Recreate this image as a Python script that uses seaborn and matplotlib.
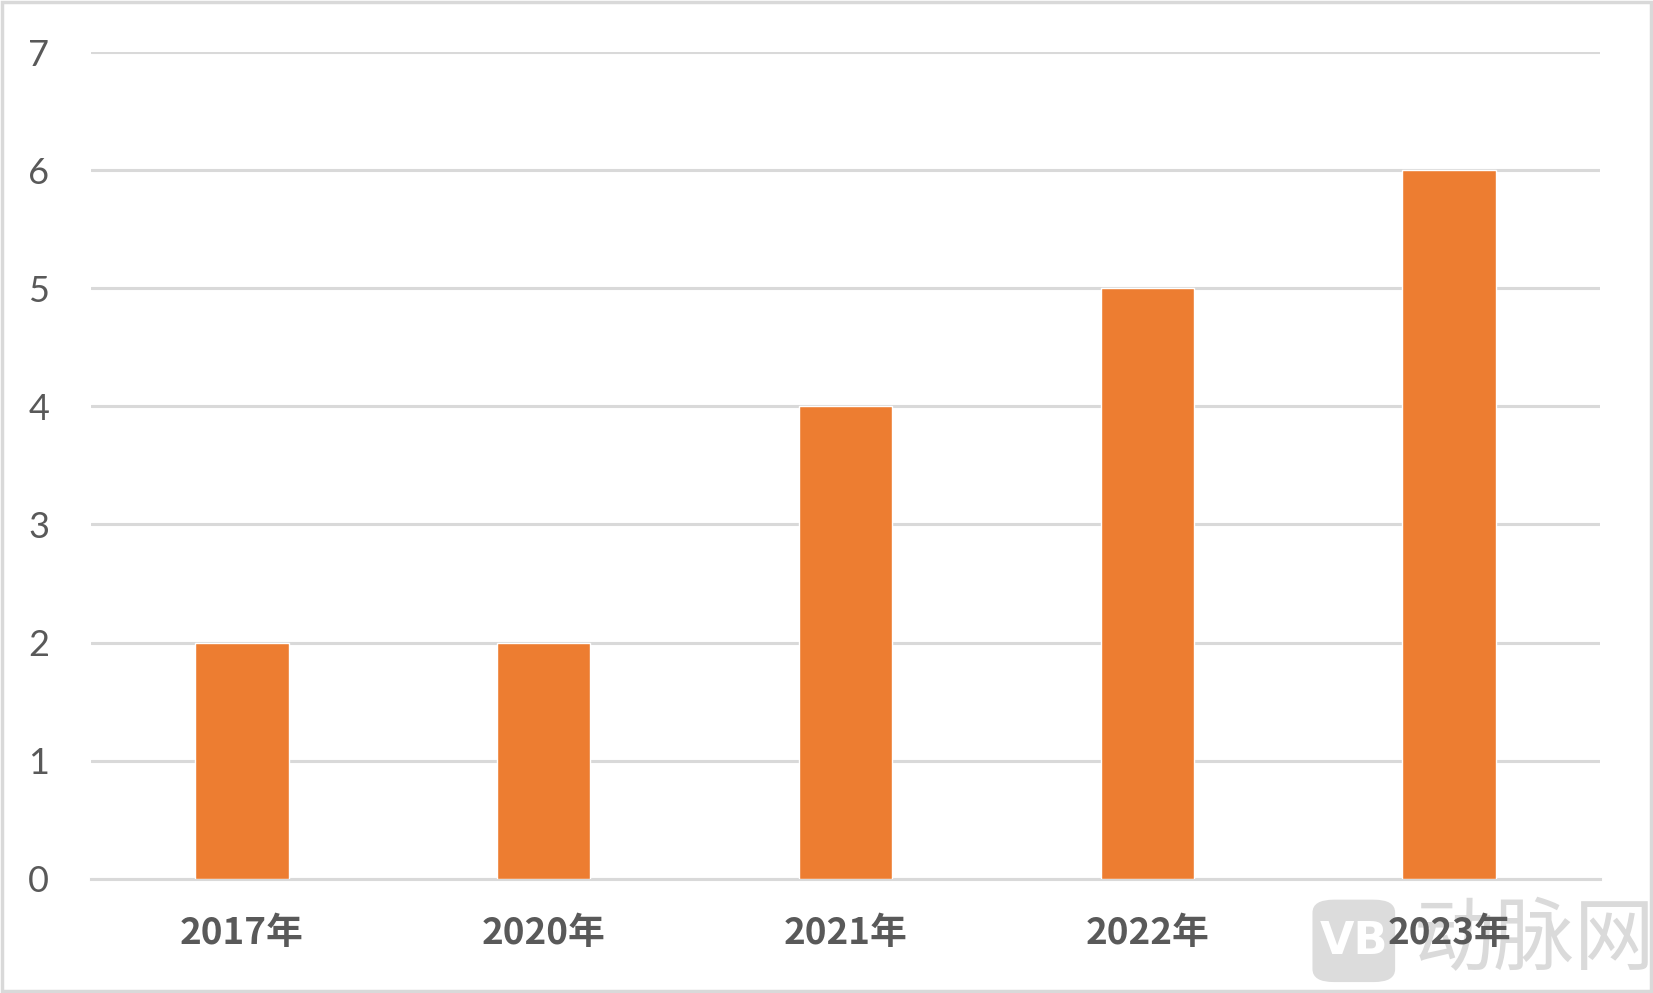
import matplotlib
matplotlib.use("Agg")
import matplotlib.pyplot as plt
import seaborn as sns
import pandas as pd
from matplotlib.patches import FancyBboxPatch, Rectangle

years = ['2017年', '2020年', '2021年', '2022年', '2023年']
counts = [2, 2, 4, 5, 6]
yticks = [0, 1, 2, 3, 4, 5, 6, 7]

df = pd.DataFrame({'year': years, 'count': counts})

sns.set_style('white')
plt.rcParams['font.family'] = ['Lato', 'Noto Sans CJK SC', 'DejaVu Sans']

fig = plt.figure(figsize=(16.53, 9.93), dpi=100)
ax = fig.add_axes([0.055, 0.115, 0.913, 0.8326])

sns.barplot(data=df, x='year', y='count', color='#ED7D31', width=0.31,
            saturation=1, ax=ax, zorder=3)

ax.set_ylim(0, 7)
ax.set_xlim(-0.5, 4.5)
ax.set_yticks(yticks)
ax.yaxis.grid(True, color='#D9D9D9', linewidth=2.2, zorder=0)
ax.set_axisbelow(True)
for s in ['top', 'right', 'left']:
    ax.spines[s].set_visible(False)
ax.spines['bottom'].set_color('#D9D9D9')
ax.spines['bottom'].set_linewidth(2.2)
ax.tick_params(axis='both', length=0)
ax.tick_params(axis='y', pad=30, labelsize=26, labelcolor='#595959')
ax.tick_params(axis='x', pad=26, labelsize=26.5, labelcolor='#595959')
for t in ax.get_xticklabels():
    t.set_fontweight('bold')
    t.set_family(['Noto Sans CJK SC', 'DejaVu Sans'])
ax.set_xlabel('')
ax.set_ylabel('')

# axes above the watermark, transparent background
ax.set_zorder(5)
ax.patch.set_alpha(0)

# figure frame
fig.patches.append(Rectangle((0.001, 0.002), 0.998, 0.996, transform=fig.transFigure,
                             fill=False, edgecolor='#D9D9D9', linewidth=2.5))

# watermark
fig.patches.append(FancyBboxPatch((0.794, 0.011), 0.05, 0.083,
                                  boxstyle='round,pad=0.0,rounding_size=0.013',
                                  transform=fig.transFigure, facecolor='#DCDCDC',
                                  edgecolor='none', zorder=1))
fig.text(0.819, 0.052, 'VB', ha='center', va='center', fontsize=32, fontweight='bold',
         color='white', family=['DejaVu Sans'], zorder=2)
fig.text(0.928, 0.052, '动脉网', ha='center', va='center', fontsize=58,
         color='#DADADA', family=['Noto Sans CJK SC'], zorder=1)

fig.savefig('out.png', dpi=100)
